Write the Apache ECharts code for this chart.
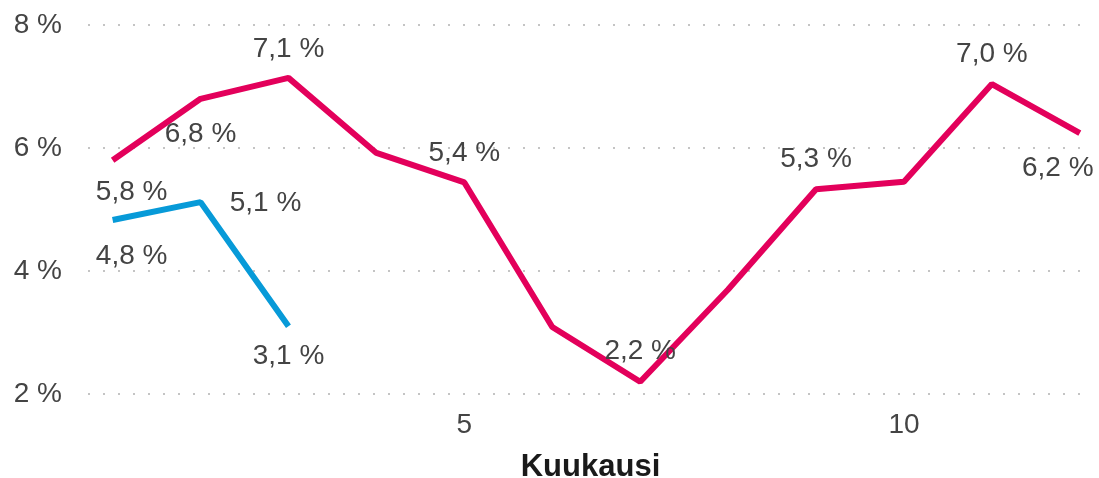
<!DOCTYPE html>
<html>
<head>
<meta charset="utf-8">
<script src="https://cdn.jsdelivr.net/npm/echarts@6/dist/echarts.min.js"></script>
<style>
    html, body { margin: 0; padding: 0; background: #fff; }
    #chart { width: 1099px; height: 478px; }
</style>
</head>
<body>
<div id="chart"></div>
<script>
// kuukaudet 1..12
const months = [1, 2, 3, 4, 5, 6, 7, 8, 9, 10, 11, 12];
// punainen sarja (koko vuosi)
const pinkValues = [5.8, 6.8, 7.14, 5.92, 5.44, 3.09, 2.2, 3.7, 5.33, 5.45, 7.04, 6.24];
// sininen sarja (vain kolme kuukautta)
const blueValues = [4.83, 5.12, 3.1];
const yTicks = [2, 4, 6, 8];
const xTicks = [5, 10];

// mitkä pisteet saavat tekstin ja mihin siirretään (dx, dy pikseleinä)
const pinkLabelOffsets = { 0: [19, 32], 1: [0, 35], 2: [0, -29], 4: [0, -29], 6: [0, -30], 8: [0, -30], 10: [0, -30], 11: [-22, 35] };
const blueLabelOffsets = { 0: [19, 36], 1: [65, 1], 2: [0, 30] };

const FONT = 'Liberation Sans, Arial, sans-serif';
const fmt = v => v.toFixed(1).replace('.', ',') + ' %';

const buildData = (values, offsets) => values.map((v, i) => {
    const item = { value: [months[i], v] };
    if (offsets[i]) {
        item.label = { show: true, position: 'inside', offset: offsets[i] };
    }
    return item;
});

const chart = echarts.init(document.getElementById('chart'));

const labelStyle = {
    show: false,
    color: '#444',
    fontFamily: FONT,
    fontSize: 28,
    formatter: p => fmt(p.value[1])
};

const option = {
    animation: false,
    grid: { left: 88, right: 6, top: 25, bottom: 84, containLabel: false, outerBoundsMode: 'none' },
    xAxis: {
        type: 'value',
        min: 0.72,
        max: 12.15,
        name: 'Kuukausi',
        nameLocation: 'middle',
        nameGap: 58,
        nameTextStyle: { color: '#1a1a1a', fontSize: 31, fontWeight: 'bold', fontFamily: FONT },
        axisLine: { show: false },
        axisTick: { show: false },
        splitLine: { show: false },
        axisLabel: {
            customValues: xTicks,
            color: '#444',
            fontSize: 28,
            margin: 17,
            fontFamily: FONT
        }
    },
    yAxis: {
        type: 'value',
        min: yTicks[0],
        max: yTicks[yTicks.length - 1],
        interval: 2,
        axisLine: { show: false },
        axisTick: { show: false },
        axisLabel: {
            color: '#444',
            fontSize: 28,
            margin: 26,
            fontFamily: FONT,
            formatter: v => v + ' %'
        },
        splitLine: { lineStyle: { color: '#c4c4c4', type: [2, 13], width: 2 } }
    },
    series: [
        {
            type: 'line',
            data: buildData(pinkValues, pinkLabelOffsets),
            symbol: 'circle',
            symbolSize: 0.1,
            lineStyle: { color: '#e3005b', width: 6 },
            itemStyle: { color: '#e3005b' },
            label: labelStyle,
            z: 3
        },
        {
            type: 'line',
            data: buildData(blueValues, blueLabelOffsets),
            symbol: 'circle',
            symbolSize: 0.1,
            lineStyle: { color: '#079ad8', width: 6 },
            itemStyle: { color: '#079ad8' },
            label: labelStyle,
            z: 2
        }
    ]
};

chart.setOption(option);
</script>
</body>
</html>
